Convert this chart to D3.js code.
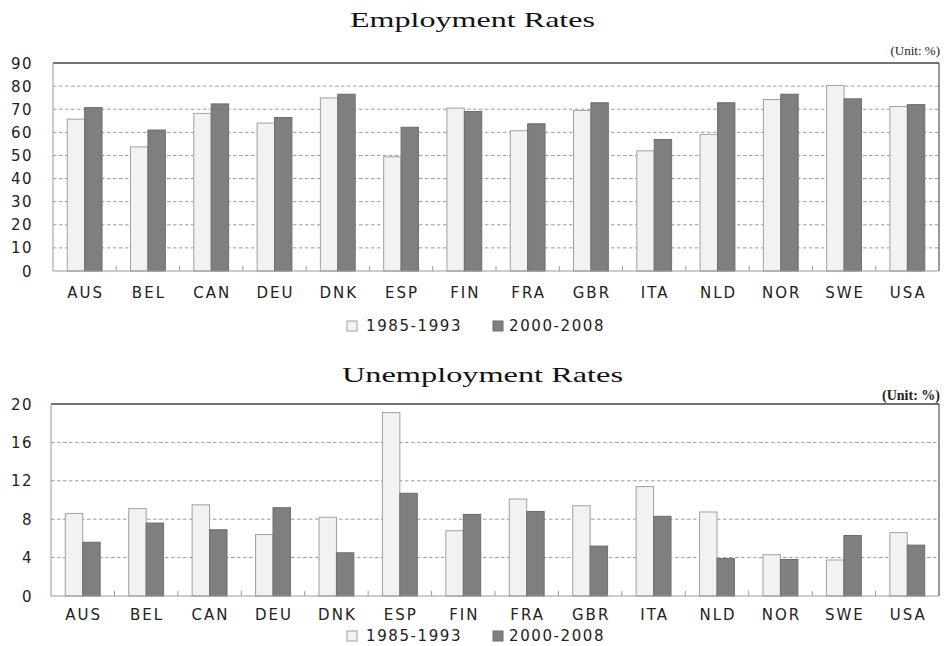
<!DOCTYPE html>
<html>
<head>
<meta charset="utf-8">
<script src="https://cdn.jsdelivr.net/npm/d3@7"></script>
<style>
  body { margin: 0; background: #fff; }
  svg { display: block; }
</style>
</head>
<body>
<div id="chart"></div>
<script>
// countries on the x axis
const countries = ['AUS', 'BEL', 'CAN', 'DEU', 'DNK', 'ESP', 'FIN', 'FRA', 'GBR', 'ITA', 'NLD', 'NOR', 'SWE', 'USA'];
const periods = ['1985-1993', '2000-2008'];

// employment rates (%)
const employ8593 = [65.7, 53.7, 68.2, 64.0, 74.9, 49.4, 70.5, 60.7, 69.5, 52.0, 59.1, 74.2, 80.3, 71.2];
const employ0008 = [70.7, 61.0, 72.3, 66.4, 76.5, 62.2, 69.0, 63.7, 72.8, 56.9, 72.8, 76.5, 74.5, 72.0];
const employTicks = [0, 10, 20, 30, 40, 50, 60, 70, 80, 90];

// unemployment rates (%)
const unemp8593 = [8.6, 9.1, 9.5, 6.4, 8.2, 19.1, 6.8, 10.1, 9.4, 11.4, 8.75, 4.3, 3.75, 6.6];
const unemp0008 = [5.6, 7.6, 6.9, 9.2, 4.5, 10.7, 8.5, 8.8, 5.2, 8.3, 3.9, 3.8, 6.3, 5.3];
const unempTicks = [0, 4, 8, 12, 16, 20];

const W = 944, H = 646;
const colors = ['#f2f2f2', '#7f7f7f'];
const strokes = ['#a0a0a0', '#6e6e6e'];
const sans = '"DejaVu Sans", sans-serif';
const serif = '"Liberation Serif", "DejaVu Serif", serif';

const svg = d3.select('#chart').append('svg')
  .attr('width', W)
  .attr('height', H);

function drawChart(opt) {
  const g = svg.append('g');
  const { left, right, top, bottom } = opt;

  const x = d3.scaleBand()
    .domain(countries)
    .range([left, right])
    .paddingInner(0.45)
    .paddingOuter(0.225);

  const xInner = d3.scaleBand()
    .domain(periods)
    .range([0, x.bandwidth()]);

  const y = d3.scaleLinear()
    .domain([0, d3.max(opt.ticks)])
    .range([bottom, top]);

  // title
  g.append('text')
    .attr('x', opt.titleX)
    .attr('y', opt.titleY)
    .attr('textLength', opt.titleLen)
    .attr('lengthAdjust', 'spacingAndGlyphs')
    .style('font-family', serif)
    .style('font-size', '22px')
    .style('fill', '#111')
    .text(opt.title);

  // unit label
  g.append('text')
    .attr('x', right + 1)
    .attr('y', opt.unitY)
    .attr('text-anchor', 'end')
    .style('font-family', serif)
    .style('font-size', opt.unitSize + 'px')
    .style('font-weight', opt.unitBold ? 'bold' : 'normal')
    .style('fill', '#222')
    .text('(Unit: %)');

  // dashed grid lines
  g.selectAll('.grid')
    .data(opt.ticks.filter(t => t > 0 && t < d3.max(opt.ticks)))
    .enter()
    .append('line')
    .attr('x1', left)
    .attr('x2', right)
    .attr('y1', d => y(d))
    .attr('y2', d => y(d))
    .attr('stroke', '#9a9a9a')
    .attr('stroke-width', 1)
    .attr('stroke-dasharray', '3.5,2.5');

  // frame
  g.append('line').attr('x1', left).attr('x2', right).attr('y1', top).attr('y2', top)
    .attr('stroke', '#444').attr('stroke-width', 1.5);
  g.append('line').attr('x1', right).attr('x2', right).attr('y1', top).attr('y2', bottom)
    .attr('stroke', '#555').attr('stroke-width', 1.2);
  g.append('line').attr('x1', left).attr('x2', left).attr('y1', top).attr('y2', bottom)
    .attr('stroke', '#aaa').attr('stroke-width', 1.2);

  // bars
  const rows = countries.map((c, i) => ({ c: c, vals: [opt.a[i], opt.b[i]] }));
  const grp = g.selectAll('.grp')
    .data(rows)
    .enter()
    .append('g')
    .attr('transform', d => 'translate(' + x(d.c) + ',0)');

  grp.selectAll('rect')
    .data(d => d.vals.map((v, k) => ({ k: k, v: v })))
    .enter()
    .append('rect')
    .attr('x', d => xInner(periods[d.k]))
    .attr('y', d => y(d.v))
    .attr('width', xInner.bandwidth())
    .attr('height', d => bottom - y(d.v))
    .attr('fill', d => colors[d.k])
    .attr('stroke', d => strokes[d.k])
    .attr('stroke-width', 1);

  // baseline with small inward ticks between groups
  g.append('line').attr('x1', left).attr('x2', right).attr('y1', bottom).attr('y2', bottom)
    .attr('stroke', '#999').attr('stroke-width', 1.2);
  g.selectAll('.tick')
    .data(countries.slice(1))
    .enter()
    .append('line')
    .attr('x1', d => x(d) - x.step() * x.paddingInner() / 2)
    .attr('x2', d => x(d) - x.step() * x.paddingInner() / 2)
    .attr('y1', bottom)
    .attr('y2', bottom - 5)
    .attr('stroke', '#999');

  // y axis labels
  g.selectAll('.ylab')
    .data(opt.ticks)
    .enter()
    .append('text')
    .attr('x', 33)
    .attr('y', d => y(d) + 5.5)
    .attr('text-anchor', 'end')
    .style('font-family', sans)
    .style('font-size', '15px')
    .style('letter-spacing', '1.5px')
    .style('fill', '#222')
    .text(d => d);

  // x axis labels
  g.selectAll('.xlab')
    .data(countries)
    .enter()
    .append('text')
    .attr('x', d => x(d) + x.bandwidth() / 2 + 1)
    .attr('y', opt.xLabY)
    .attr('text-anchor', 'middle')
    .style('font-family', sans)
    .style('font-size', '15px')
    .style('letter-spacing', '2px')
    .style('fill', '#222')
    .text(d => d);

  // legend
  const legX = [347, 493];
  const txtX = [366, 509];
  periods.forEach((p, k) => {
    g.append('rect')
      .attr('x', legX[k])
      .attr('y', opt.legY - 10)
      .attr('width', 10)
      .attr('height', 10)
      .attr('fill', colors[k])
      .attr('stroke', strokes[k]);
    g.append('text')
      .attr('x', txtX[k])
      .attr('y', opt.legY)
      .style('font-family', sans)
      .style('font-size', '15px')
      .style('letter-spacing', '1.6px')
      .style('fill', '#222')
      .text(p);
  });
}

drawChart({
  title: 'Employment  Rates', titleX: 350, titleY: 27, titleLen: 245,
  unitY: 55, unitSize: 13, unitBold: false,
  left: 53, right: 939, top: 63, bottom: 271,
  ticks: employTicks, a: employ8593, b: employ0008,
  xLabY: 298, legY: 331
});

drawChart({
  title: 'Unemployment  Rates', titleX: 342, titleY: 382, titleLen: 281,
  unitY: 400, unitSize: 14, unitBold: true,
  left: 51, right: 939, top: 404, bottom: 596,
  ticks: unempTicks, a: unemp8593, b: unemp0008,
  xLabY: 620, legY: 641
});
</script>
</body>
</html>
